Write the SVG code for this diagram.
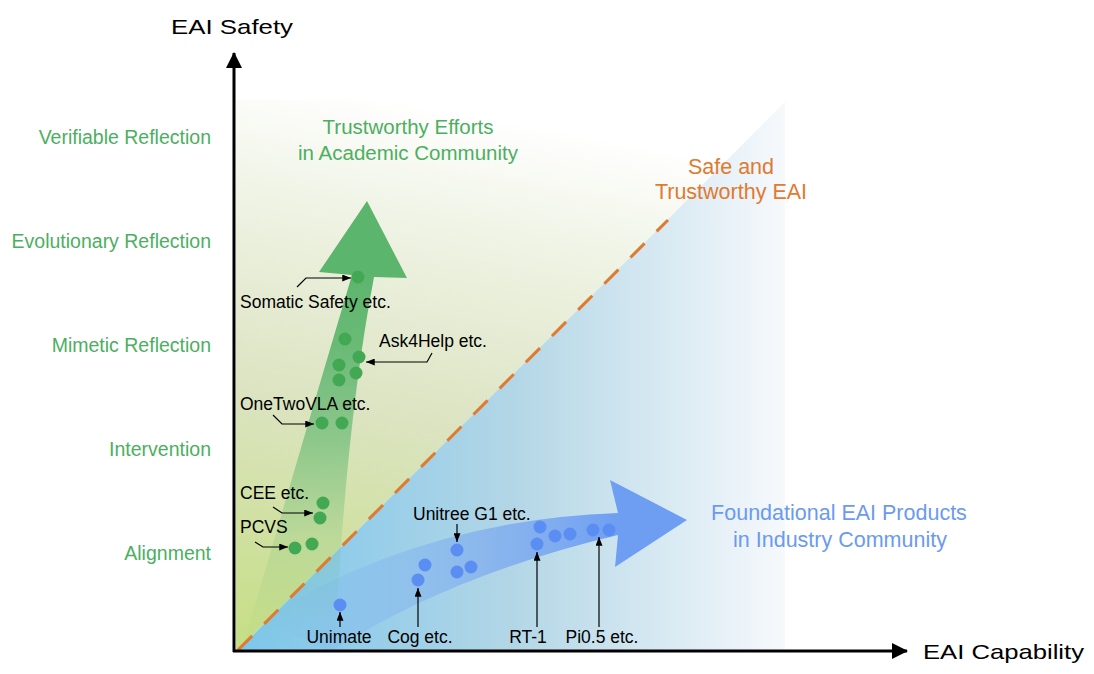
<svg xmlns="http://www.w3.org/2000/svg" width="1094" height="674" viewBox="0 0 1094 674">
<defs>
<style>
text{font-family:"Liberation Sans",Arial,sans-serif}
.ax{font-size:21px;fill:#000}
.lvl{font-size:19.5px;fill:#4caf5f;text-anchor:end}
.grn{font-size:20.5px;fill:#4caf5f;text-anchor:middle}
.org{font-size:21.5px;fill:#e07a30;text-anchor:middle}
.blu{font-size:21.5px;fill:#6b9af0;text-anchor:middle}
.lb{font-size:17.5px;fill:#000}
.lbm{font-size:17.5px;fill:#000;text-anchor:middle}
.gd{fill:#43a853}
.bd{fill:#5b8ef2}
.ann{fill:none;stroke:#000;stroke-width:1.2;marker-end:url(#ah)}
</style>
<marker id="ah" viewBox="0 0 10 8" refX="10" refY="4" markerWidth="9" markerHeight="7" markerUnits="userSpaceOnUse" orient="auto"><path d="M0,0L10,4L0,8Z" fill="#000"/></marker>
<marker id="axh" viewBox="0 0 16 16" refX="15" refY="8" markerWidth="16" markerHeight="16" markerUnits="userSpaceOnUse" orient="auto"><path d="M0,0L16,8L0,16Z" fill="#000"/></marker>
<linearGradient id="gUp" gradientUnits="userSpaceOnUse" x1="300" y1="652" x2="400" y2="100">
<stop offset="0" stop-color="#c6de86"/>
<stop offset="0.45" stop-color="#dce4c2"/>
<stop offset="0.8" stop-color="#f0f4e6"/>
<stop offset="1" stop-color="#ffffff"/>
</linearGradient>
<linearGradient id="gLo" gradientUnits="userSpaceOnUse" x1="236" y1="0" x2="785" y2="0">
<stop offset="0" stop-color="#7cc6ec"/>
<stop offset="0.5" stop-color="#b2d6e6"/>
<stop offset="1" stop-color="#f6f9fc"/>
</linearGradient>
<linearGradient id="gArr" gradientUnits="userSpaceOnUse" x1="0" y1="650" x2="0" y2="270">
<stop offset="0" stop-color="#5cb56c" stop-opacity="0"/>
<stop offset="0.3" stop-color="#5cb56c" stop-opacity="0.18"/>
<stop offset="0.55" stop-color="#5cb56c" stop-opacity="0.6"/>
<stop offset="0.8" stop-color="#5cb56c" stop-opacity="0.9"/>
<stop offset="1" stop-color="#5cb56c" stop-opacity="1"/>
</linearGradient>
<linearGradient id="bArr" gradientUnits="userSpaceOnUse" x1="270" y1="0" x2="620" y2="0">
<stop offset="0" stop-color="#6e9ef2" stop-opacity="0"/>
<stop offset="0.4" stop-color="#6e9ef2" stop-opacity="0.3"/>
<stop offset="1" stop-color="#6e9ef2" stop-opacity="1"/>
</linearGradient>
</defs>

<g id="background">
<polygon points="236,100 787,100 236,652" fill="url(#gUp)"/>
<polygon points="236,652 787,100 785,100 785,652" fill="url(#gLo)"/>
</g>

<g id="academic-arrow">
<path d="M245,640 Q300,450 352,275 L319,272 L367,201 L407,278 L374,277 Q345,430 335,650 Z" fill="url(#gArr)"/>
</g>

<g id="industry-arrow">
<path d="M260,620 Q420,520 618,513 L610,480 L687,520 L615,567 L618,535 Q450,575 330,652 Z" fill="url(#bArr)"/>
</g>

<g id="boundary">
<line x1="238" y1="650" x2="668" y2="220" stroke="#e07a30" stroke-width="3" stroke-dasharray="20 17"/>
</g>

<g id="axes">
<line x1="234" y1="652" x2="234" y2="53" stroke="#000" stroke-width="3" marker-end="url(#axh)"/>
<line x1="233" y1="651" x2="907" y2="651" stroke="#000" stroke-width="3" marker-end="url(#axh)"/>
<text class="ax" x="171" y="34" textLength="122" lengthAdjust="spacingAndGlyphs">EAI Safety</text>
<text class="ax" x="923" y="659" textLength="161" lengthAdjust="spacingAndGlyphs">EAI Capability</text>
</g>

<g id="levels">
<text class="lvl" x="211" y="144">Verifiable Reflection</text>
<text class="lvl" x="211" y="248">Evolutionary Reflection</text>
<text class="lvl" x="211" y="352">Mimetic Reflection</text>
<text class="lvl" x="211" y="456">Intervention</text>
<text class="lvl" x="211" y="560">Alignment</text>
</g>

<g id="titles">
<text class="grn" x="408" y="134">Trustworthy Efforts</text>
<text class="grn" x="408" y="160">in Academic Community</text>
<text class="org" x="731" y="174">Safe and</text>
<text class="org" x="731" y="199">Trustworthy EAI</text>
<text class="blu" x="839" y="520">Foundational EAI Products</text>
<text class="blu" x="840" y="547">in Industry Community</text>
</g>

<g id="academic-dots">
<circle class="gd" cx="358" cy="277" r="6.5"/>
<circle class="gd" cx="345" cy="339" r="6.5"/>
<circle class="gd" cx="359" cy="357" r="6.5"/>
<circle class="gd" cx="339" cy="365" r="6.5"/>
<circle class="gd" cx="356" cy="373" r="6.5"/>
<circle class="gd" cx="339" cy="380" r="6.5"/>
<circle class="gd" cx="322" cy="423" r="6.5"/>
<circle class="gd" cx="342" cy="423" r="6.5"/>
<circle class="gd" cx="323" cy="503" r="6.5"/>
<circle class="gd" cx="320" cy="518" r="6.5"/>
<circle class="gd" cx="295" cy="548" r="6.5"/>
<circle class="gd" cx="312" cy="544" r="6.5"/>
</g>

<g id="industry-dots">
<circle class="bd" cx="340" cy="605" r="6.5"/>
<circle class="bd" cx="418" cy="580" r="6.5"/>
<circle class="bd" cx="425" cy="565" r="6.5"/>
<circle class="bd" cx="457" cy="550" r="6.5"/>
<circle class="bd" cx="457" cy="572" r="6.5"/>
<circle class="bd" cx="471" cy="567" r="6.5"/>
<circle class="bd" cx="540" cy="527" r="6.5"/>
<circle class="bd" cx="537" cy="544" r="6.5"/>
<circle class="bd" cx="555" cy="536" r="6.5"/>
<circle class="bd" cx="570" cy="534" r="6.5"/>
<circle class="bd" cx="593" cy="530" r="6.5"/>
<circle class="bd" cx="609" cy="530" r="6.5"/>
</g>

<g id="labels">
<text class="lb" x="240" y="308">Somatic Safety etc.</text>
<text class="lb" x="379" y="347">Ask4Help etc.</text>
<text class="lb" x="240" y="410">OneTwoVLA etc.</text>
<text class="lb" x="240" y="499">CEE etc.</text>
<text class="lb" x="240" y="533">PCVS</text>
<text class="lb" x="413" y="520">Unitree G1 etc.</text>
<text class="lbm" x="339" y="643">Unimate</text>
<text class="lbm" x="420" y="643">Cog etc.</text>
<text class="lbm" x="528" y="643">RT-1</text>
<text class="lbm" x="602" y="643">Pi0.5 etc.</text>
</g>

<g id="connectors">
<polyline class="ann" points="297,287 306,278 351,278"/>
<polyline class="ann" points="432,353 427,362 366,362"/>
<polyline class="ann" points="273,415 282,424 314,424"/>
<polyline class="ann" points="273,507 282,513 313,513"/>
<polyline class="ann" points="255,542 263,547 288,547"/>
<line class="ann" x1="340" y1="627" x2="340" y2="612"/>
<line class="ann" x1="418" y1="627" x2="418" y2="588"/>
<line class="ann" x1="457" y1="524" x2="457" y2="542"/>
<line class="ann" x1="537" y1="627" x2="537" y2="552"/>
<line class="ann" x1="599" y1="627" x2="599" y2="537"/>
</g>
</svg>
